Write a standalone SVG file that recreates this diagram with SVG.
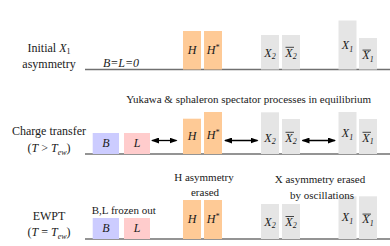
<svg xmlns="http://www.w3.org/2000/svg" width="390" height="246" viewBox="0 0 390 246" font-family="'Liberation Serif', 'DejaVu Serif', serif">
<defs>
<style>
text{font-family:'Liberation Serif','DejaVu Serif',serif;fill:#1a1a1a}
.lab{font-size:12px;text-anchor:middle}
.ann{font-size:11px;text-anchor:middle}
.sym{font-size:12px;font-style:italic;text-anchor:middle}
.it{font-style:italic}
.sub{font-size:8px}
.h{fill:#FECA96}
.b{fill:#CCCCFF}
.l{fill:#FFCCCC}
.x{fill:#E5E5E5}
.base{stroke:#707070;stroke-width:1.6}
.arr{stroke:#000;stroke-width:1.3;marker-start:url(#ah);marker-end:url(#ah)}
.ov{stroke:#1a1a1a;stroke-width:0.8}
</style>
<marker id="ah" markerWidth="8" markerHeight="6" refX="7" refY="3" orient="auto-start-reverse" markerUnits="userSpaceOnUse"><path d="M0,0 L8,3 L0,6 Z" fill="#000"/></marker>
</defs>
<rect width="390" height="246" fill="#fff"/>

<g id="baselines">
<line class="base" x1="85" y1="69.5" x2="390" y2="69.5"/>
<line class="base" x1="85" y1="154" x2="390" y2="154"/>
<line class="base" x1="85" y1="239" x2="390" y2="239"/>
</g>

<g id="row1-label">
<text class="lab" x="49" y="51.7">Initial <tspan class="it">X</tspan><tspan class="sub" dy="2.5">1</tspan></text>
<text class="lab" x="49" y="67.5">asymmetry</text>
<text class="sym" x="121" y="66.7">B=L=0</text>
</g>
<g id="row2-label">
<text class="lab" x="49" y="135.3">Charge transfer</text>
<text class="lab" x="49" y="152">(<tspan class="it">T</tspan> &gt; <tspan class="it">T</tspan><tspan class="sub it" dy="2.5">ew</tspan><tspan dy="-2.5">)</tspan></text>
</g>
<g id="row3-label">
<text class="lab" x="49" y="219.5">EWPT</text>
<text class="lab" x="49" y="236">(<tspan class="it">T</tspan> = <tspan class="it">T</tspan><tspan class="sub it" dy="2.5">ew</tspan><tspan dy="-2.5">)</tspan></text>
</g>

<g id="r1-H"><rect class="h" x="183" y="31" width="18" height="38.5"/><text class="sym" x="192" y="53.5">H</text></g>
<g id="r1-Hs"><rect class="h" x="204" y="31" width="18" height="38.5"/><text class="sym" x="213" y="53.5">H<tspan class="sub" font-size="7" dy="-4">*</tspan></text></g>
<g id="r1-X2"><rect class="x" x="261" y="35" width="18" height="34.5"/><text class="sym" x="270" y="56.5">X<tspan class="sub" dy="2.5">2</tspan></text></g>
<g id="r1-X2b"><rect class="x" x="282" y="35" width="18" height="34.5"/><text class="sym" x="291" y="56.5">X<tspan class="sub" dy="2.5">2</tspan></text><line class="ov" x1="285.5" y1="47.3" x2="294" y2="47.3"/></g>
<g id="r1-X1"><rect class="x" x="338.5" y="20.5" width="18" height="49"/><text class="sym" x="347.5" y="49.3">X<tspan class="sub" dy="2.5">1</tspan></text></g>
<g id="r1-X1b"><rect class="x" x="359" y="38" width="18" height="31.5"/><text class="sym" x="368" y="59.3">X<tspan class="sub" dy="2.5">1</tspan></text><line class="ov" x1="362.5" y1="50.1" x2="371" y2="50.1"/></g>

<g id="r2-B"><rect class="b" x="92.7" y="133" width="26.3" height="21"/><text class="sym" x="105.8" y="147">B</text></g>
<g id="r2-L"><rect class="l" x="124" y="133" width="26" height="21"/><text class="sym" x="137" y="147">L</text></g>
<g id="r2-H"><rect class="h" x="183" y="118.7" width="18" height="35.3"/><text class="sym" x="192" y="140">H</text></g>
<g id="r2-Hs"><rect class="h" x="204" y="112" width="18" height="42"/><text class="sym" x="213" y="138.5">H<tspan class="sub" font-size="7" dy="-4">*</tspan></text></g>
<g id="r2-X2"><rect class="x" x="261" y="112.3" width="18" height="41.7"/><text class="sym" x="270" y="141.5">X<tspan class="sub" dy="2.5">2</tspan></text></g>
<g id="r2-X2b"><rect class="x" x="282" y="119" width="18" height="35"/><text class="sym" x="291" y="141.5">X<tspan class="sub" dy="2.5">2</tspan></text><line class="ov" x1="285.5" y1="132.3" x2="294" y2="132.3"/></g>
<g id="r2-X1"><rect class="x" x="338.5" y="112" width="18" height="42"/><text class="sym" x="347.5" y="137">X<tspan class="sub" dy="2.5">1</tspan></text></g>
<g id="r2-X1b"><rect class="x" x="359" y="119" width="18" height="35"/><text class="sym" x="368" y="141.5">X<tspan class="sub" dy="2.5">1</tspan></text><line class="ov" x1="362.5" y1="132.3" x2="371" y2="132.3"/></g>

<g id="connectors">
<line class="arr" x1="152" y1="140.5" x2="176.5" y2="140.5"/>
<line class="arr" x1="225" y1="140.5" x2="257.5" y2="140.5"/>
<line class="arr" x1="302.5" y1="140.5" x2="335" y2="140.5"/>
</g>

<g id="r3-B"><rect class="b" x="92.7" y="218" width="26.3" height="21"/><text class="sym" x="105.8" y="232.3">B</text></g>
<g id="r3-L"><rect class="l" x="124" y="218" width="26" height="21"/><text class="sym" x="137" y="232.3">L</text></g>
<g id="r3-H"><rect class="h" x="183" y="200" width="18" height="39"/><text class="sym" x="192" y="223.3">H</text></g>
<g id="r3-Hs"><rect class="h" x="204" y="200" width="18" height="39"/><text class="sym" x="213" y="223.3">H<tspan class="sub" font-size="7" dy="-4">*</tspan></text></g>
<g id="r3-X2"><rect class="x" x="261" y="204" width="18" height="35"/><text class="sym" x="270" y="225.7">X<tspan class="sub" dy="2.5">2</tspan></text></g>
<g id="r3-X2b"><rect class="x" x="282" y="204" width="18" height="35"/><text class="sym" x="291" y="225.7">X<tspan class="sub" dy="2.5">2</tspan></text><line class="ov" x1="285.5" y1="216.5" x2="294" y2="216.5"/></g>
<g id="r3-X1"><rect class="x" x="338.5" y="196.3" width="18" height="42.7"/><text class="sym" x="347.5" y="221.3">X<tspan class="sub" dy="2.5">1</tspan></text></g>
<g id="r3-X1b"><rect class="x" x="359" y="196.3" width="18" height="42.7"/><text class="sym" x="368" y="223.3">X<tspan class="sub" dy="2.5">1</tspan></text><line class="ov" x1="362.5" y1="214.1" x2="371" y2="214.1"/></g>

<g id="annotations">
<text class="ann" x="248.7" y="102.5">Yukawa &amp; sphaleron spectator processes in equilibrium</text>
<text class="ann" x="123.8" y="214">B,L frozen out</text>
<text class="ann" x="204" y="180.7">H asymmetry</text>
<text class="ann" x="205" y="196">erased</text>
<text class="ann" x="320" y="183">X asymmetry erased</text>
<text class="ann" x="322" y="199">by oscillations</text>
</g>
</svg>
